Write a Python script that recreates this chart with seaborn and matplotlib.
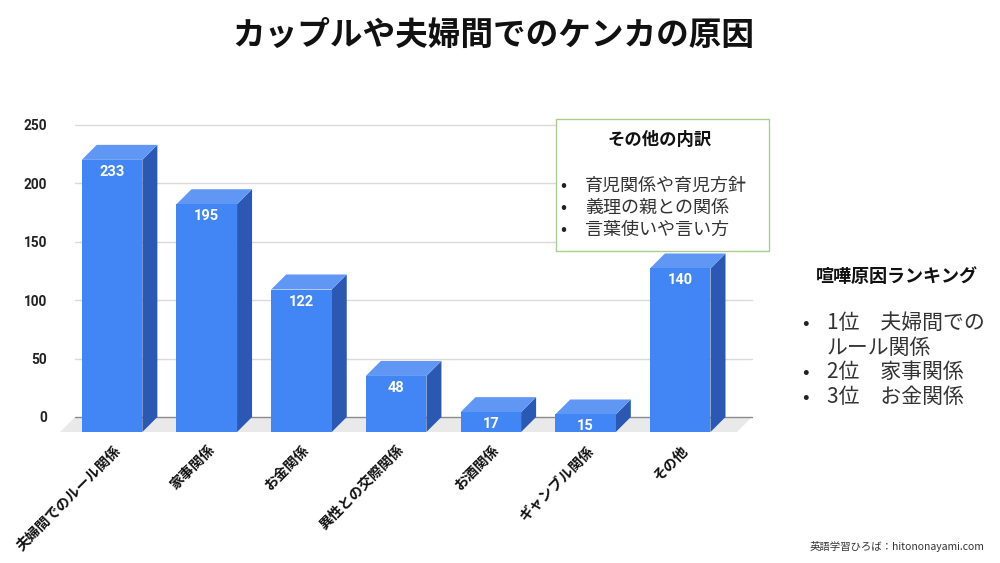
import matplotlib
matplotlib.use("Agg")
import matplotlib.pyplot as plt
import seaborn as sns
import pandas as pd
from matplotlib.patches import Polygon, Rectangle
from matplotlib.transforms import ScaledTranslation

# ---------------- data ----------------
categories = ["夫婦間でのルール関係", "家事関係", "お金関係", "異性との交際関係",
              "お酒関係", "ギャンブル関係", "その他"]
values = [233, 195, 122, 48, 17, 15, 140]
y_ticks = [0, 50, 100, 150, 200, 250]
title = "カップルや夫婦間でのケンカの原因"
box_title = "その他の内訳"
box_items = ["育児関係や育児方針", "義理の親との関係", "言葉使いや言い方"]
rank_title = "喧嘩原因ランキング"
rank_lines = [("•", "1位　夫婦間での"), ("", "ルール関係"),
              ("•", "2位　家事関係"), ("•", "3位　お金関係")]
footer = "英語学習ひろば：hitononayami.com"

# ---------------- style ----------------
sns.set_theme(style="white")
plt.rcParams["font.family"] = ["Noto Sans CJK JP", "DejaVu Sans"]

FRONT = "#4285F4"
SIDE = "#2A58B3"
TOP = "#6097F5"
FLOOR = "#E9E9E9"

W, H = 1000, 563
fig = plt.figure(figsize=(10, 5.63), dpi=100)

# axes: back plane of the 3D chart
ax_l, ax_r, ax_b, ax_t = 75, 752, 417, 125   # pixels
ax = fig.add_axes([ax_l / W, (H - ax_b) / H, (ax_r - ax_l) / W, (ax_b - ax_t) / H])
xlim = (-0.55, 6.6)
ylim = (0, 250)

df = pd.DataFrame({"cat": categories, "val": values})
bar_w = 0.64
sns.barplot(data=df, x="cat", y="val", color=FRONT, saturation=1, width=bar_w,
            ax=ax, zorder=3)
ax.set_xlim(*xlim)
ax.set_ylim(*ylim)

# depth offset in data units (15 px right / up)
depth_px = 15
dx = depth_px / (ax_r - ax_l) * (xlim[1] - xlim[0])
dy = depth_px / (ax_b - ax_t) * (ylim[1] - ylim[0])

# gridlines (back plane)
for t in y_ticks:
    ax.plot([xlim[0], xlim[1]], [t, t], color="#8a8a8a" if t == 0 else "#DADADA",
            lw=1.0, zorder=1, clip_on=False)

# floor
floor = Polygon([(xlim[0], 0), (xlim[1], 0), (xlim[1] - dx, -dy), (xlim[0] - dx, -dy)],
                closed=True, facecolor=FLOOR, edgecolor="none", zorder=0.5, clip_on=False)
ax.add_patch(floor)

# 3D faces built from the seaborn bars
for p, v in zip(ax.patches[:len(values)], values):
    xl = p.get_x()
    xr = xl + p.get_width()
    # side face
    ax.add_patch(Polygon([(xr - dx, -dy), (xr - dx, v - dy), (xr, v), (xr, 0)],
                         closed=True, facecolor=SIDE, edgecolor="none", zorder=2.5,
                         clip_on=False))
    # top face
    ax.add_patch(Polygon([(xl - dx, v - dy), (xr - dx, v - dy), (xr, v), (xl, v)],
                         closed=True, facecolor=TOP, edgecolor="none", zorder=2.6,
                         clip_on=False))
    # front face shifted forward
    p.set_x(xl - dx)
    p.set_y(-dy)
    p.set_clip_on(False)
    p.set_zorder(3)
    p.set_edgecolor("none")
    cx = xl - dx + p.get_width() / 2
    ax.text(cx, v - dy, f"{v}", ha="center", va="center", color="white",
            fontsize=10.5, fontweight="bold", family=["Roboto", "DejaVu Sans"],
            transform=ax.transData + ScaledTranslation(0, -12 / 100, fig.dpi_scale_trans),
            zorder=5)

# category labels
for i, c in enumerate(categories):
    ax.text(i - dx, -dy, c, rotation=45, ha="right", va="center",
            rotation_mode="anchor", fontsize=10.2, fontweight="bold", color="#111111",
            transform=ax.transData + ScaledTranslation(6 / 100, -16 / 100, fig.dpi_scale_trans),
            clip_on=False)

ax.set_xticks([])
ax.set_yticks(y_ticks)
ax.set_yticklabels([str(t) for t in y_ticks], fontsize=9.8, fontweight="bold",
                   family=["Roboto", "DejaVu Sans"], color="#222222")
ax.tick_params(axis="y", length=0, pad=20)
ax.set_xlabel("")
ax.set_ylabel("")
for s in ax.spines.values():
    s.set_visible(False)
ax.set_facecolor("none")

# title
fig.text(493 / W, 1 - 35 / H, title, ha="center", va="center", fontsize=23.5,
         fontweight="bold", color="#111111")

# annotation box
bx0, bx1, by0, by1 = 556, 769, 119, 251
fig.patches.append(Rectangle((bx0 / W, 1 - by1 / H), (bx1 - bx0) / W, (by1 - by0) / H,
                             transform=fig.transFigure, facecolor="white",
                             edgecolor="#A9CD8F", lw=1.0, zorder=10))
fig.text(660 / W, 1 - 140 / H, box_title, ha="center", va="center", fontsize=12.5,
         fontweight="bold", color="#111111", zorder=11)
for k, item in enumerate(box_items):
    yy = 1 - (186 + 22 * k) / H
    fig.text(563 / W, yy, "•", ha="center", va="center", fontsize=13,
             color="#222222", zorder=11)
    fig.text(585 / W, yy, item, ha="left", va="center", fontsize=13,
             color="#333333", zorder=11)

# ranking text
fig.text(897 / W, 1 - 277 / H, rank_title, ha="center", va="center", fontsize=13,
         fontweight="bold", color="#111111")
for k, (b, line) in enumerate(rank_lines):
    yy = 1 - (323 + 24.7 * k) / H
    if b:
        fig.text(805 / W, yy, b, ha="center", va="center", fontsize=14, color="#222222")
    fig.text(827 / W, yy, line, ha="left", va="center", fontsize=15, color="#333333")

# footer
fig.text(984 / W, 1 - 547 / H, footer, ha="right", va="center", fontsize=7.5,
         color="#333333")

fig.savefig("out.png", dpi=100, facecolor="white")
